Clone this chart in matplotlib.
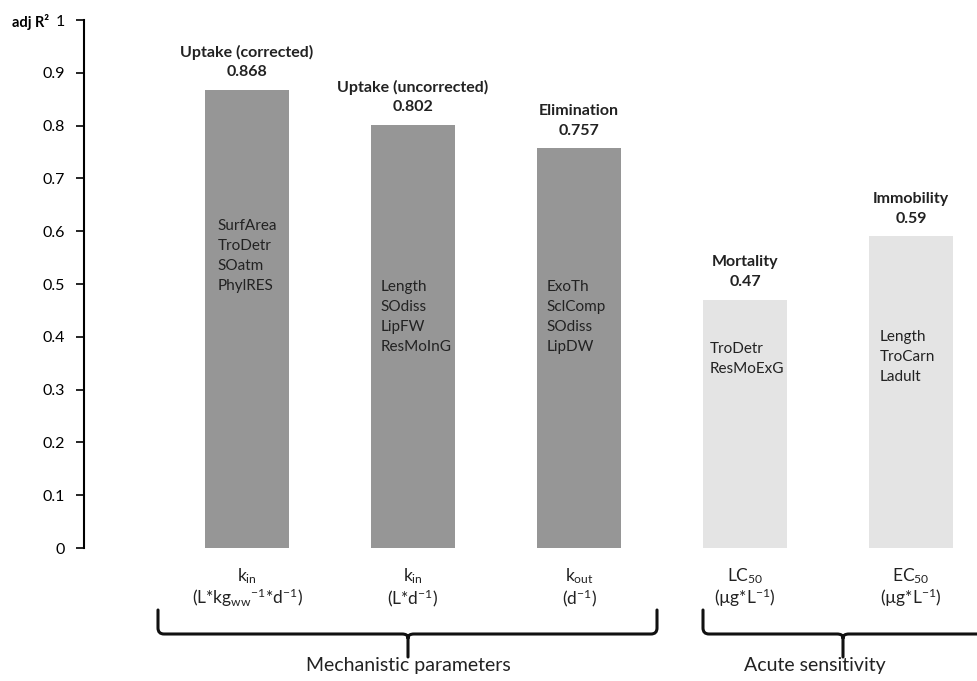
import matplotlib
matplotlib.use("Agg")
import matplotlib.pyplot as plt
from matplotlib.path import Path
from matplotlib.patches import PathPatch

plt.rcParams['font.family'] = ['Lato', 'DejaVu Sans']
plt.rcParams['mathtext.fontset'] = 'custom'
plt.rcParams['mathtext.rm'] = 'Lato'
plt.rcParams['mathtext.it'] = 'Lato:italic'

# data
titles = ["Uptake (corrected)", "Uptake (uncorrected)", "Elimination", "Mortality", "Immobility"]
values = [0.868, 0.802, 0.757, 0.47, 0.59]
value_labels = ["0.868", "0.802", "0.757", "0.47", "0.59"]
predictors = [
    ["SurfArea", "TroDetr", "SOatm", "PhylRES"],
    ["Length", "SOdiss", "LipFW", "ResMoInG"],
    ["ExoTh", "SclComp", "SOdiss", "LipDW"],
    ["TroDetr", "ResMoExG"],
    ["Length", "TroCarn", "Ladult"],
]
param_names = [r"k$_{\mathrm{in}}$", r"k$_{\mathrm{in}}$", r"k$_{\mathrm{out}}$",
               r"LC$_{\mathrm{50}}$", r"EC$_{\mathrm{50}}$"]
param_units = [r"(L*kg$_{\mathrm{ww}}$$^{\mathrm{-1}}$*d$^{\mathrm{-1}}$)", r"(L*d$^{\mathrm{-1}}$)",
               r"(d$^{\mathrm{-1}}$)", r"(µg*L$^{\mathrm{-1}}$)", r"(µg*L$^{\mathrm{-1}}$)"]
groups = ["Mechanistic parameters", "Acute sensitivity"]

# layout
pred_top = [0.623, 0.508, 0.508, 0.390, 0.413]
pred_dx = [-0.178, -0.195, -0.195, -0.213, -0.19]
colors = ["#969696", "#969696", "#969696", "#e4e4e4", "#e4e4e4"]
text_col = "#222222"

W, H = 977, 681
fig = plt.figure(figsize=(W / 100, H / 100), dpi=100)
ax = fig.add_axes([84 / W, (H - 548) / H, 1 - 84 / W, (548 - 20) / H])

x = list(range(len(values)))
ax.bar(x, values, width=0.51, color=colors)
ax.set_xlim(-163 / 166, (W - 247) / 166)
ax.set_ylim(0, 1)
ax.set_yticks([i / 10 for i in range(11)])
ax.set_yticklabels(["0"] + [f"{i / 10:.1f}" for i in range(1, 10)] + ["1"])
ax.tick_params(axis='y', direction='out', length=6, width=1.2, labelsize=11.5, colors='black', pad=8)
ax.set_xticks([])
for s in ['top', 'right', 'bottom']:
    ax.spines[s].set_visible(False)
ax.spines['left'].set_linewidth(1.5)

for xi, v, t, vl, preds, py, dx in zip(x, values, titles, value_labels, predictors, pred_top, pred_dx):
    ax.annotate(t, (xi, v), xytext=(0, 27), textcoords='offset points', ha='center', va='center',
                fontsize=11.5, fontweight='bold', color=text_col)
    ax.annotate(vl, (xi, v), xytext=(0, 12.5), textcoords='offset points', ha='center', va='center',
                fontsize=11.5, fontweight='bold', color=text_col)
    ax.text(xi + dx, py, "\n".join(preds), ha='left', va='top', fontsize=11,
            color=text_col, linespacing=1.55)

# overlay in pixel coords for labels under axis and braces
ov = fig.add_axes([0, 0, 1, 1])
ov.set_xlim(0, W)
ov.set_ylim(H, 0)
ov.axis('off')
ov.patch.set_alpha(0)

bar_px = [247 + 166 * i for i in x]
for bx, n, u in zip(bar_px, param_names, param_units):
    ov.text(bx, 576, n, ha='center', va='center', fontsize=12.5, color=text_col)
    ov.text(bx, 598, u, ha='center', va='center', fontsize=12.5, color=text_col)

ov.text(12, 22, "adj R²", ha='left', va='center', fontsize=10.5,
        fontweight='bold', color='black')


def brace(x0, xm, x1, ytop=610, yh=634, ybot=657):
    r = 6
    verts = [(x0, ytop), (x0, yh - r), (x0, yh), (x0 + r, yh), (xm - 6, yh), (xm, yh), (xm, yh + 4),
             (xm, ybot), (xm, yh + 4), (xm, yh), (xm + 6, yh), (x1 - r, yh), (x1, yh), (x1, yh - r),
             (x1, ytop)]
    codes = [Path.MOVETO, Path.LINETO, Path.CURVE3, Path.CURVE3, Path.LINETO, Path.CURVE3, Path.CURVE3,
             Path.LINETO, Path.MOVETO, Path.CURVE3, Path.CURVE3, Path.LINETO, Path.CURVE3, Path.CURVE3,
             Path.LINETO]
    ov.add_patch(PathPatch(Path(verts, codes), fill=False, lw=2.2, edgecolor='#111111',
                           capstyle='round', joinstyle='round'))


brace(158, 408, 657)
brace(703, 843, 1010)

ov.text(408, 666, groups[0], ha='center', va='center', fontsize=14, color=text_col)
ov.text(815, 666, groups[1], ha='center', va='center', fontsize=14, color=text_col)

fig.savefig("out.png", dpi=100)
